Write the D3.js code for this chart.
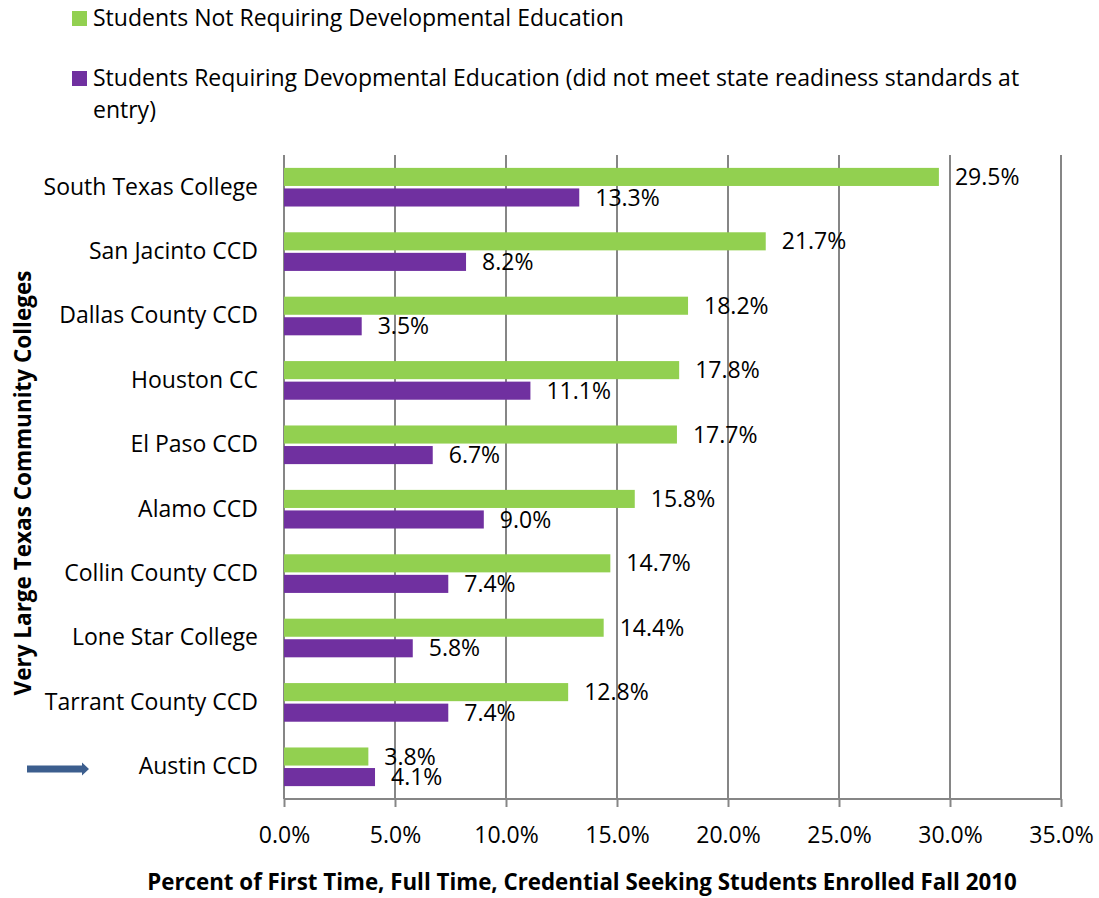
<!DOCTYPE html>
<html><head><meta charset="utf-8">
<script src="https://cdn.jsdelivr.net/npm/d3@7"></script>
<style>body{margin:0;background:#fff}svg{display:block}</style>
</head><body>
<svg id="c" width="1099" height="898"></svg>
<script>
const categories = ["South Texas College","San Jacinto CCD","Dallas County CCD","Houston CC","El Paso CCD","Alamo CCD","Collin County CCD","Lone Star College","Tarrant County CCD","Austin CCD"];
const notRequiring = [29.5,21.7,18.2,17.8,17.7,15.8,14.7,14.4,12.8,3.8];
const requiring = [13.3,8.2,3.5,11.1,6.7,9.0,7.4,5.8,7.4,4.1];
const xTicks = [0,5,10,15,20,25,30,35];
const seriesNames = ["Students Not Requiring Developmental Education","Students Requiring Devopmental Education (did not meet state readiness standards at","entry)"];

(function(){
const FONT = "'Open Sans', sans-serif";
const FS = 23;
const GREEN = "#92D050", PURPLE = "#7030A0", GRID = "#868686";
const svg = d3.select("#c");
const L = 284, R = 1061, T = 155, B = 799;

const x = d3.scaleLinear().domain([0,35]).range([L,R]);
const y = d3.scaleBand().domain(categories).range([T,B]).paddingInner(0.4).paddingOuter(0.2);
const sub = d3.scaleBand().domain(["a","b"]).range([0,y.bandwidth()]).paddingInner(0.12);

svg.append("g").selectAll("line").data(xTicks.slice(1)).join("line")
  .attr("x1",d=>x(d)).attr("x2",d=>x(d)).attr("y1",T).attr("y2",B)
  .attr("stroke",GRID).attr("stroke-width",2);

const xa = svg.append("g").attr("transform",`translate(0,${B})`)
  .call(d3.axisBottom(x).tickValues(xTicks).tickFormat(d=>d.toFixed(1)+"%").tickSize(8).tickPadding(20));
xa.select(".domain").attr("stroke",GRID).attr("stroke-width",2).attr("d",`M${L},0H${R}`);
xa.selectAll(".tick line").attr("stroke",GRID).attr("stroke-width",2);
xa.selectAll(".tick text").attr("font-family",FONT).attr("font-size",FS).attr("fill","#000");

const ya = svg.append("g").attr("transform",`translate(${L},0)`)
  .call(d3.axisLeft(y).tickSize(0).tickPadding(26));
ya.select(".domain").attr("stroke",GRID).attr("stroke-width",2).attr("d",`M0,${T}V${B}`);
ya.selectAll(".tick text").attr("font-family",FONT).attr("font-size",FS).attr("fill","#000");

const g = svg.append("g");
g.selectAll("rect.a").data(categories).join("rect").attr("class","a")
  .attr("x",L).attr("y",(d)=>y(d)+sub("a"))
  .attr("width",(d,i)=>x(notRequiring[i])-L).attr("height",sub.bandwidth()).attr("fill",GREEN);
g.selectAll("rect.b").data(categories).join("rect").attr("class","b")
  .attr("x",L).attr("y",(d)=>y(d)+sub("b"))
  .attr("width",(d,i)=>x(requiring[i])-L).attr("height",sub.bandwidth()).attr("fill",PURPLE);

g.selectAll("text.a").data(categories).join("text").attr("class","a")
  .attr("x",(d,i)=>x(notRequiring[i])+16).attr("y",d=>y(d)+sub("a")+sub.bandwidth()/2)
  .attr("dy","0.35em").attr("font-family",FONT).attr("font-size",FS)
  .text((d,i)=>notRequiring[i].toFixed(1)+"%");
g.selectAll("text.b").data(categories).join("text").attr("class","b")
  .attr("x",(d,i)=>x(requiring[i])+16).attr("y",d=>y(d)+sub("b")+sub.bandwidth()/2)
  .attr("dy","0.35em").attr("font-family",FONT).attr("font-size",FS)
  .text((d,i)=>requiring[i].toFixed(1)+"%");

svg.append("text").attr("x",582).attr("y",890).attr("text-anchor","middle")
  .attr("font-family",FONT).attr("font-weight","bold").attr("font-size",22.3)
  .text("Percent of First Time, Full Time, Credential Seeking Students Enrolled Fall 2010");
svg.append("text").attr("transform","translate(31,483) rotate(-90)").attr("text-anchor","middle")
  .attr("font-family",FONT).attr("font-weight","bold").attr("font-size",22.5)
  .text("Very Large Texas Community Colleges");

svg.append("rect").attr("x",72).attr("y",11).attr("width",15).attr("height",15).attr("fill",GREEN);
svg.append("text").attr("x",93).attr("y",26).attr("font-family",FONT).attr("font-size",FS).text(seriesNames[0]);
svg.append("rect").attr("x",72).attr("y",71).attr("width",15).attr("height",15).attr("fill",PURPLE);
svg.append("text").attr("x",93).attr("y",86).attr("font-family",FONT).attr("font-size",FS).text(seriesNames[1]);
svg.append("text").attr("x",93).attr("y",118).attr("font-family",FONT).attr("font-size",FS).text(seriesNames[2]);

svg.append("path").attr("d","M27,765.5H82V762.5L89,769L82,775.5V772.5H27Z").attr("fill","#3C5E8E");
})();
</script>
</body></html>
